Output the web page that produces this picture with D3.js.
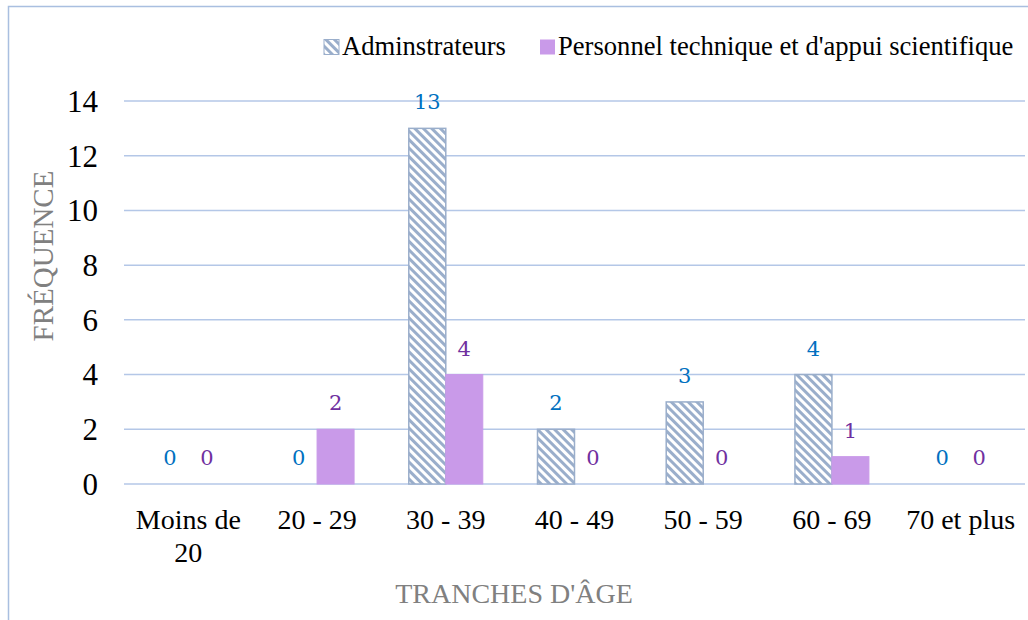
<!DOCTYPE html>
<html>
<head>
<meta charset="utf-8">
<script src="https://cdn.jsdelivr.net/npm/d3@7"></script>
<style>
  body { margin: 0; background: #fff; }
  svg { display: block; }
  text { font-family: "Liberation Serif", "Times New Roman", serif; }
  text.val { font-family: "DejaVu Serif", serif; }
</style>
</head>
<body>
<svg id="chart"></svg>
<script>
var width = 1028;
var height = 620;

var categories = ["Moins de 20", "20 - 29", "30 - 39", "40 - 49", "50 - 59", "60 - 69", "70 et plus"];
var seriesNames = ["Adminstrateurs", "Personnel technique et d'appui scientifique"];
var admin = [0, 0, 13, 2, 3, 4, 0];
var personnel = [0, 2, 4, 0, 0, 1, 0];
var yTicks = [0, 2, 4, 6, 8, 10, 12, 14];

var margin = { top: 101, left: 124, right: 1025, bottom: 484 };

var svg = d3.select("#chart").attr("width", width).attr("height", height);

// hatch pattern for the first series
var defs = svg.append("defs");
var pat = defs.append("pattern")
  .attr("id", "hatch")
  .attr("patternUnits", "userSpaceOnUse")
  .attr("width", 6)
  .attr("height", 6)
  .attr("patternTransform", "rotate(45)");
pat.append("rect").attr("width", 6).attr("height", 6).attr("fill", "#fff");
pat.append("rect").attr("x", 0).attr("y", 0).attr("width", 6).attr("height", 3).attr("fill", "#9aaecb");

// outer frame
svg.append("rect")
  .attr("x", 8.5).attr("y", 6.5)
  .attr("width", 1030).attr("height", 640)
  .attr("fill", "none")
  .attr("stroke", "#a9bfe0")
  .attr("stroke-width", 1.5);

var x = d3.scaleBand()
  .domain(categories)
  .range([margin.left, margin.right]);

var y = d3.scaleLinear()
  .domain([0, 14])
  .range([margin.bottom, margin.top]);

var barW = 37;

// gridlines
svg.selectAll(".grid")
  .data(yTicks)
  .enter()
  .append("line")
  .attr("x1", margin.left)
  .attr("x2", margin.right)
  .attr("y1", function (d) { return y(d); })
  .attr("y2", function (d) { return y(d); })
  .attr("stroke", "#b4c7e7")
  .attr("stroke-width", 1.5);

// y tick labels
svg.selectAll(".ytick")
  .data(yTicks)
  .enter()
  .append("text")
  .attr("x", 98)
  .attr("y", function (d) { return y(d); })
  .attr("dy", "0.35em")
  .attr("text-anchor", "end")
  .attr("font-size", 31)
  .attr("fill", "#000")
  .text(function (d) { return d; });

// x labels
svg.selectAll(".xtick")
  .data(categories)
  .enter()
  .append("text")
  .attr("text-anchor", "middle")
  .attr("font-size", 28)
  .attr("fill", "#000")
  .each(function (d) {
    var cx = x(d) + x.bandwidth() / 2;
    var lines = d === "Moins de 20" ? ["Moins de", "20"] : [d];
    var t = d3.select(this);
    lines.forEach(function (l, i) {
      t.append("tspan").attr("x", cx).attr("y", 529 + i * 33).text(l);
    });
  });

// bars
var g = svg.append("g");
g.selectAll(".admin")
  .data(admin)
  .enter()
  .append("rect")
  .attr("x", function (d, i) { return x(categories[i]) + x.bandwidth() / 2 - barW; })
  .attr("y", function (d) { return y(d); })
  .attr("width", barW)
  .attr("height", function (d) { return y(0) - y(d); })
  .attr("fill", "url(#hatch)")
  .attr("stroke", function (d) { return d ? "#9aaecb" : "none"; })
  .attr("stroke-width", 1.5);

g.selectAll(".pers")
  .data(personnel)
  .enter()
  .append("rect")
  .attr("x", function (d, i) { return x(categories[i]) + x.bandwidth() / 2; })
  .attr("y", function (d) { return y(d); })
  .attr("width", barW)
  .attr("height", function (d) { return y(0) - y(d); })
  .attr("fill", "#c99ae9")
  .attr("stroke", function (d) { return d ? "#c99ae9" : "none"; });

// value labels
g.selectAll(".alab")
  .data(admin)
  .enter()
  .append("text")
  .attr("class", "val")
  .attr("x", function (d, i) { return x(categories[i]) + x.bandwidth() / 2 - barW / 2; })
  .attr("y", function (d) { return y(d) - 19; })
  .attr("text-anchor", "middle")
  .attr("font-size", 21)
  .attr("fill", "#0070c0")
  .text(function (d) { return d; });

g.selectAll(".plab")
  .data(personnel)
  .enter()
  .append("text")
  .attr("class", "val")
  .attr("x", function (d, i) { return x(categories[i]) + x.bandwidth() / 2 + barW / 2; })
  .attr("y", function (d) { return y(d) - 19; })
  .attr("text-anchor", "middle")
  .attr("font-size", 21)
  .attr("fill", "#7030a0")
  .text(function (d) { return d; });

// axis titles
svg.append("text")
  .attr("transform", "translate(53,256)rotate(-90)")
  .attr("text-anchor", "middle")
  .attr("font-size", 29)
  .attr("fill", "#808080")
  .text("FRÉQUENCE");

svg.append("text")
  .attr("x", 514)
  .attr("y", 603)
  .attr("text-anchor", "middle")
  .attr("font-size", 28)
  .attr("fill", "#808080")
  .text("TRANCHES D'ÂGE");

// legend
var legend = [
  { name: seriesNames[0], fill: "url(#hatch)", x: 324 },
  { name: seriesNames[1], fill: "#c99ae9", x: 540 }
];
legend.forEach(function (l) {
  svg.append("rect")
    .attr("x", l.x).attr("y", 39.5)
    .attr("width", 15).attr("height", 15)
    .attr("fill", l.fill)
    .attr("stroke", l.fill === "#c99ae9" ? "none" : "#9aaecb");
  svg.append("text")
    .attr("x", l.x + 18).attr("y", 55)
    .attr("font-size", 26.6)
    .attr("fill", "#000")
    .text(l.name);
});
</script>
</body>
</html>
